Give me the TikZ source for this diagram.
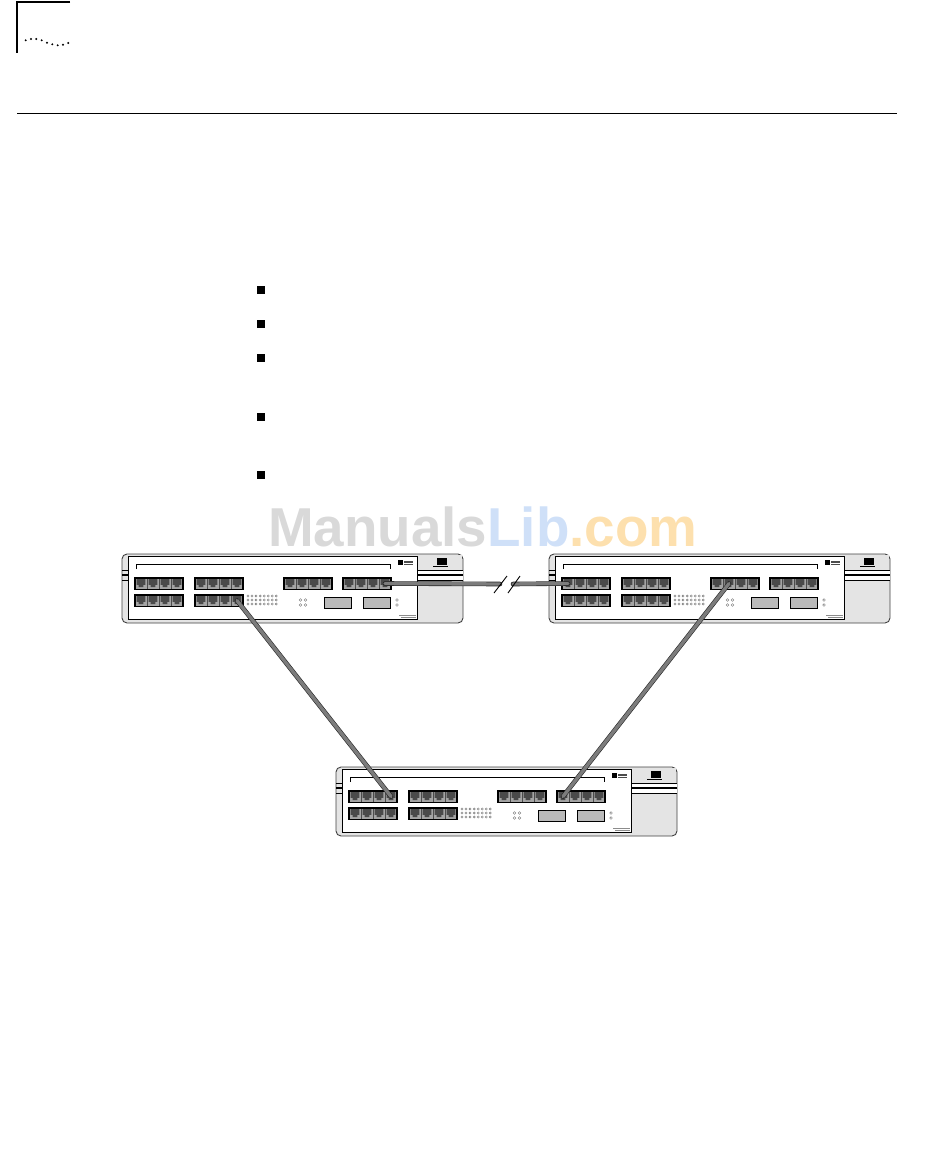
\documentclass[tikz,border=0pt]{standalone}
\usepackage{fontspec}
\setmainfont{Liberation Sans}
\definecolor{panelgray}{HTML}{E4E4E4}
\definecolor{portgray}{HTML}{A4A4A4}
\definecolor{slotgray}{HTML}{BABABA}
\definecolor{portdark}{HTML}{4A4A4A}
\definecolor{cablegray}{HTML}{7C7C7C}
\definecolor{markgray}{HTML}{D9D9D9}
\definecolor{markblue}{HTML}{CFE0F8}
\definecolor{markorange}{HTML}{FDE0AE}
\tikzset{
  cable/.style={draw=black!85,line width=.6pt,double=cablegray,double distance=3.4pt,line cap=round},
  breakmark/.style={line width=.9pt},
  led/.style={draw=black!55,line width=.4pt},
  bullet/.style={fill=black,draw=none,minimum size=7.5pt,inner sep=0pt},
  slot/.style={draw=black,fill=slotgray,line width=.8pt},
}
% four ports side by side, #1 = name, (#2,#3) = top left corner
\newcommand{\portgroup}[3]{
  \fill[portgray] (#2,#3) rectangle ++(48,11.5);
  \foreach \n in {1,2,3,4} {
    \pgfmathsetmacro{\px}{#2+(\n-1)*12}
    \fill[portdark] (\px+1.7,#3+1.2) -- ++(8.6,0) -- ++(0,5.6) -- ++(-2,0) -- ++(0,2.2) -- ++(-4.6,0) -- ++(0,-2.2) -- ++(-2,0) -- cycle;
    \coordinate (#1-\n) at (\px+6,#3+5.5);
  }
  \foreach \n in {1,2,3} \draw[black!70,line width=.4pt] (#2+\n*12,#3) -- ++(0,11.5);
  \draw[line width=1.1pt] (#2,#3) rectangle ++(48,11.5);
}
% one switch, #1 = name, (#2,#3) = shift from the first one
\newcommand{\switchbox}[3]{
  \begin{scope}[shift={(#2,#3)}]
    \draw[fill=panelgray,draw=black!75,line width=.9pt,rounded corners=5pt] (122,554) rectangle (463,623);
    \draw[fill=white,line width=1pt] (128,556) rectangle (417,619.5);
    % side strip
    \draw[line width=.7pt] (122,570) -- (128,570);
    \draw[line width=1.2pt] (122,575) -- (128,575);
    \draw[line width=.7pt] (122,580) -- (128,580);
    % panel stripes
    \fill[panelgray] (417.5,555) rectangle (462,570);
    \fill[white] (417.5,570) rectangle (463,580);
    \draw[line width=.8pt] (417,570) -- (463,570);
    \draw[line width=1.4pt] (417,575) -- (463,575);
    \draw[line width=.8pt] (417,580) -- (463,580);
    % label bracket
    \draw[line width=.7pt] (136,569) -- (136,564) -- (390,564) -- (390,569);
    % logo marks
    \fill (437,558) rectangle (447,565);
    \fill (433,565.5) rectangle (448,567);
    \fill (398,560) rectangle (403,565);
    \fill[black!70] (404,561) rectangle (413,562.5);
    \fill[black!70] (404,563.5) rectangle (413,565);
    \fill[black!45] (399,615) rectangle (416,616);
    \fill[black!45] (401,617) rectangle (416,618);
    % ports
    \portgroup{#1-a}{135}{578}
    \portgroup{#1-b}{195}{578}
    \portgroup{#1-c}{284}{578}
    \portgroup{#1-d}{343}{578}
    \portgroup{#1-e}{135}{595}
    \portgroup{#1-f}{195}{595}
    % leds
    \foreach \i in {0,...,7}
      \foreach \j in {0,1,2}
        \draw[led] (248+\i*4.05,596+\j*4) circle (1.1pt);
    \foreach \i in {0,1}
      \foreach \j in {0,1}
        \draw[led] (300.5+\i*5,600+\j*5) circle (1.3pt);
    \foreach \j in {0,1}
      \draw[led] (397,600+\j*5) circle (1.3pt);
    % slots
    \draw[slot] (324,597) rectangle (351,608);
    \draw[slot] (363,597) rectangle (390,608);
  \end{scope}
}
\begin{document}
\begin{tikzpicture}[x=1pt,y=-1pt]
  \useasboundingbox (0,0) rectangle (950,1163);
  % page corner
  \draw[line width=1.5pt] (70,2) -- (17,2) -- (17,53);
  \foreach \x/\y in {25.7/40.3,31/39,36.3/39,41.7/40.3,47/42.7,52.3/44.3,57.7/45.3,63/44.7,68.3/43}
    \fill (\x,\y) circle (1.1pt);
  \draw[line width=.8pt] (17,113) -- (897,113);
  % bullets
  \foreach \y in {290,324,358,417,475}
    \node[bullet] at (261,\y) {};
  % watermark
  \node[anchor=base west,inner sep=0pt,font=\bfseries\fontsize{54.8}{60}\selectfont] (wmark) at (268,546)
    {\textcolor{markgray}{Manuals}\textcolor{markblue}{Lib}\textcolor{markorange}{.com}};
  % switches
  \switchbox{swa}{0}{0}
  \switchbox{swb}{427}{0}
  \switchbox{swc}{214}{213}
  % cables
  \coordinate (breakl) at (500,584);
  \coordinate (breakr) at (513,584);
  \draw[cable] (swa-d-4) -- (breakl);
  \draw[cable] (breakr) -- (swb-a-1);
  \draw[cable] (swa-f-4) -- (swc-a-4);
  \draw[cable] (swb-c-2) -- (swc-d-1);
  \draw[breakmark] (494,593) -- (507,576);
  \draw[breakmark] (508,593) -- (520,576);
\end{tikzpicture}
\end{document}
